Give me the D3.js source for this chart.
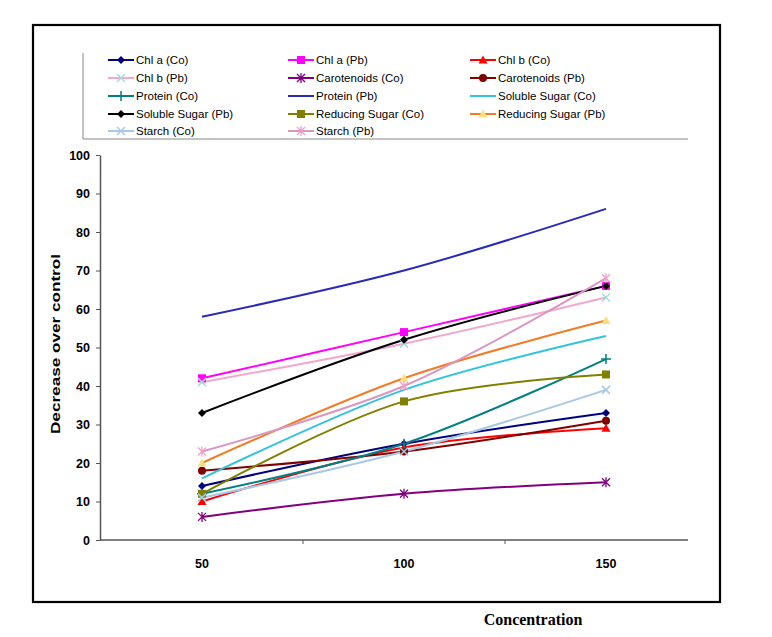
<html>
<head>
<script src="https://d3js.org/d3.v7.min.js"></script>
<style>
  body { margin: 0; background: #fff; }
  text { font-family: "Liberation Sans", Arial, sans-serif; }
</style>
</head>
<body>
<svg id="chart" width="772" height="637"></svg>
<script>
// concentrations on the x axis
const concentrations = [50, 100, 150];
const yTicks = [0, 10, 20, 30, 40, 50, 60, 70, 80, 90, 100];

// series names, colours, markers and values (decrease over control)
const seriesNames = ["Chl a (Co)", "Chl a (Pb)", "Chl b (Co)", "Chl b (Pb)", "Carotenoids (Co)",
  "Carotenoids (Pb)", "Protein (Co)", "Protein (Pb)", "Soluble Sugar (Co)", "Soluble Sugar (Pb)",
  "Reducing Sugar (Co)", "Reducing Sugar (Pb)", "Starch (Co)", "Starch (Pb)"];
const lineColors = ["#000080", "#ff00ff", "#ff0000", "#f0a8cc", "#800080",
  "#800000", "#008080", "#2a2ab8", "#33c4dc", "#000000",
  "#808000", "#f07c28", "#a8c8e4", "#d898c0"];
const markerColors = ["#000080", "#ff00ff", "#ff0000", "#a8d8e0", "#800080",
  "#800000", "#008080", "#2a2ab8", "#33c4dc", "#000000",
  "#808000", "#f8e080", "#a8c8e4", "#f0a0c8"];
const markerTypes = ["diamond", "square", "triangle", "x", "star",
  "circle", "plus", "none", "none", "diamond",
  "square", "triangle", "x", "star"];
const values = [
  [14, 25, 33],
  [42, 54, 66],
  [10, 24, 29],
  [41, 51, 63],
  [6, 12, 15],
  [18, 23, 31],
  [12, 25, 47],
  [58, 70, 86],
  [16, 39, 53],
  [33, 52, 66],
  [12, 36, 43],
  [20, 42, 57],
  [11, 23, 39],
  [23, 40, 68]
];

const svg = d3.select("svg#chart");

// outer frame
svg.append("rect")
  .attr("x", 33).attr("y", 25)
  .attr("width", 687).attr("height", 577)
  .attr("fill", "none").attr("stroke", "#000").attr("stroke-width", 2.2);

const x = d3.scalePoint().domain(concentrations).range([202, 606]);
const y = d3.scaleLinear().domain([0, 100]).range([540, 155]);

// y axis
const yAxis = svg.append("g")
  .attr("transform", "translate(100,0)")
  .call(d3.axisLeft(y).tickValues(yTicks).tickSize(4).tickSizeOuter(0).tickPadding(6));
yAxis.select(".domain").attr("stroke", "#555").attr("stroke-width", 1.5);
yAxis.selectAll(".tick line").attr("stroke", "#555");
yAxis.selectAll("text").attr("font-size", 12.5).attr("font-weight", "bold").attr("fill", "#000")
  .style("font-family", "'Liberation Sans', Arial, sans-serif");

// x axis: line with separators between categories
const gx = svg.append("g");
gx.append("line")
  .attr("x1", 100).attr("x2", 688)
  .attr("y1", y(0)).attr("y2", y(0))
  .attr("stroke", "#555").attr("stroke-width", 1.5);
const step = x.step();
gx.selectAll("line.sep").data(concentrations.slice(0, 2))
  .join("line")
  .attr("class", "sep")
  .attr("x1", d => x(d) + step / 2).attr("x2", d => x(d) + step / 2)
  .attr("y1", y(0)).attr("y2", y(0) + 4)
  .attr("stroke", "#555");
gx.selectAll("text").data(concentrations)
  .join("text")
  .attr("x", d => x(d)).attr("y", y(0) + 28)
  .attr("text-anchor", "middle")
  .attr("font-size", 12.5).attr("font-weight", "bold")
  .text(d => d);

// axis titles
svg.append("text")
  .attr("transform", "translate(60,344) rotate(-90)")
  .attr("text-anchor", "middle")
  .attr("font-size", 13.5).attr("font-weight", "bold")
  .attr("textLength", 180).attr("lengthAdjust", "spacingAndGlyphs")
  .text("Decrease over control");
svg.append("text")
  .attr("x", 533).attr("y", 625)
  .attr("text-anchor", "middle")
  .attr("font-size", 16).attr("font-weight", "bold")
  .style("font-family", "'Liberation Serif', 'Times New Roman', serif")
  .text("Concentration");

// marker drawing
function drawMarker(g, type, color) {
  if (type === "diamond") {
    g.append("path").attr("d", "M0,-4L4,0L0,4L-4,0Z").attr("fill", color);
  } else if (type === "square") {
    g.append("rect").attr("x", -4).attr("y", -4).attr("width", 8).attr("height", 8).attr("fill", color);
  } else if (type === "triangle") {
    g.append("path").attr("d", "M0,-4.5L4.5,3.5L-4.5,3.5Z").attr("fill", color);
  } else if (type === "circle") {
    g.append("circle").attr("r", 4).attr("fill", color);
  } else if (type === "x") {
    g.append("path").attr("d", "M-4,-4L4,4M-4,4L4,-4").attr("stroke", color).attr("stroke-width", 1.5);
  } else if (type === "star") {
    g.append("path").attr("d", "M-4,-4L4,4M-4,4L4,-4M0,-5L0,5").attr("stroke", color).attr("stroke-width", 1.3);
  } else if (type === "plus") {
    g.append("path").attr("d", "M-5,0L5,0M0,-5L0,5").attr("stroke", color).attr("stroke-width", 1.5);
  }
}

// lines
const line = d3.line()
  .x((d, i) => x(concentrations[i]))
  .y(d => y(d))
  .curve(d3.curveCatmullRom.alpha(0.5));

const plot = svg.append("g");
seriesNames.forEach((name, s) => {
  plot.append("path")
    .datum(values[s])
    .attr("d", line)
    .attr("fill", "none")
    .attr("stroke", lineColors[s])
    .attr("stroke-width", 2);
});
seriesNames.forEach((name, s) => {
  values[s].forEach((v, i) => {
    const g = plot.append("g").attr("transform", `translate(${x(concentrations[i])},${y(v)})`);
    drawMarker(g, markerTypes[s], markerColors[s]);
  });
});

// legend
const legend = svg.append("g");
legend.append("path")
  .attr("d", "M83,53L83,139L688,139")
  .attr("fill", "none").attr("stroke", "#888").attr("stroke-width", 1);
const colX = [108, 288, 470];
const rowY = [60, 78, 96, 114, 131];
seriesNames.forEach((name, s) => {
  const lx = colX[s % 3], ly = rowY[Math.floor(s / 3)];
  const g = legend.append("g").attr("transform", `translate(${lx},${ly})`);
  g.append("line").attr("x1", 0).attr("x2", 26).attr("stroke", lineColors[s]).attr("stroke-width", 2);
  const m = g.append("g").attr("transform", "translate(13,0)");
  drawMarker(m, markerTypes[s], markerColors[s]);
  g.append("text").attr("x", 28).attr("y", 4).attr("font-size", 11.5).text(name);
});
</script>
</body>
</html>
